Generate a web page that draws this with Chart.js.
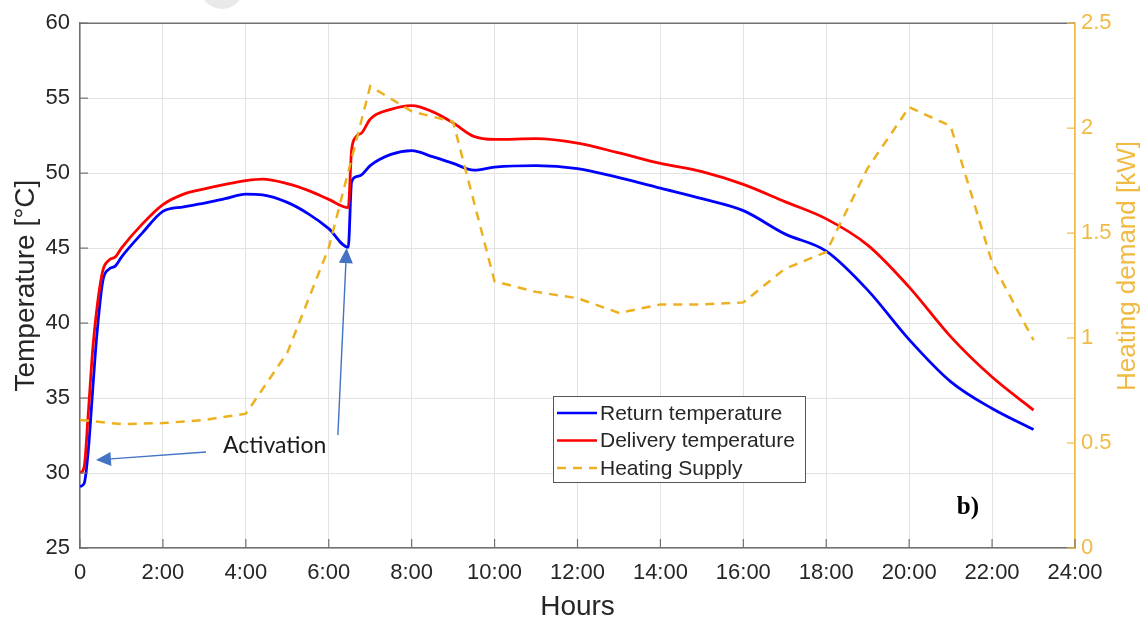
<!DOCTYPE html>
<html>
<head>
<meta charset="utf-8">
<title>Temperature and heating demand</title>
<script src="https://cdn.jsdelivr.net/npm/chart.js@4.4.0/dist/chart.umd.min.js"></script>
<style>
  html, body { margin: 0; padding: 0; background: #fff; }
  #wrap { width: 1147px; height: 622px; }
</style>
</head>
<body>
<div id="wrap"><canvas id="heatChart"></canvas></div>
<script>
// time axis (hours) shared by both temperature curves
const tempHours = [0, 0.1, 0.2, 0.3, 0.4, 0.55, 0.7, 0.85, 1.0, 1.5, 2.0, 2.5, 3.0, 3.5, 4.0, 4.4, 5.0, 5.5, 6.0, 6.47,
  6.55, 6.65, 6.8, 7.0, 7.5, 8.0, 8.5, 9.0, 9.5, 10.0, 11.0, 12.0, 13.0, 14.0, 15.0, 16.0, 17.0, 18.0, 19.0, 20.0, 21.0, 22.0, 23.0];
const returnTemp = [29.1, 29.3, 31.5, 35.3, 39.0, 42.8, 43.6, 43.8, 44.4, 46.0, 47.45, 47.75, 48.0, 48.3, 48.6, 48.55, 48.05, 47.3, 46.3, 45.05,
  49.4, 49.75, 49.9, 50.5, 51.25, 51.5, 51.1, 50.65, 50.2, 50.4, 50.5, 50.3, 49.7, 49.0, 48.3, 47.5, 45.95, 44.8, 42.2, 38.9, 36.1, 34.3, 32.9];
const deliveryTemp = [30.0, 30.4, 34.0, 38.0, 40.8, 43.5, 44.2, 44.4, 45.0, 46.6, 47.9, 48.6, 48.95, 49.25, 49.5, 49.6, 49.3, 48.85, 48.25, 47.7,
  51.5, 52.4, 52.7, 53.6, 54.25, 54.5, 54.1, 53.35, 52.45, 52.25, 52.3, 52.0, 51.35, 50.65, 50.1, 49.25, 48.1, 46.95, 45.2, 42.4, 39.1, 36.4, 34.2];

// hourly heating supply (kW)
const supplyHours = [0, 1, 2, 3, 4, 5, 6, 7, 8, 9, 10, 11, 12, 13, 14, 15, 16, 17, 18, 19, 20, 21, 22, 23];
const heatingSupply = [0.61, 0.59, 0.595, 0.61, 0.64, 0.93, 1.43, 2.2, 2.08, 2.03, 1.27, 1.22, 1.19, 1.12, 1.16, 1.16, 1.17, 1.33, 1.41, 1.81, 2.1, 2.01, 1.36, 0.99];

const hourTicks = [0, 2, 4, 6, 8, 10, 12, 14, 16, 18, 20, 22, 24];
const hourLabels = ['0', '2:00', '4:00', '6:00', '8:00', '10:00', '12:00', '14:00', '16:00', '18:00', '20:00', '22:00', '24:00'];

const FONT = '"Liberation Sans", Arial, Helvetica, sans-serif';
const TEXT = '#262626';
const AXIS = '#707070';
const GRID = '#e3e3e3';
const ORANGE = '#EDB120';
const ORANGE_AXIS = '#F0BB45';

function toPoints(xs, ys) {
  return xs.map((x, i) => ({ x: x, y: ys[i] }));
}

function line(ctx, x1, y1, x2, y2) {
  ctx.beginPath();
  ctx.moveTo(x1, y1);
  ctx.lineTo(x2, y2);
  ctx.stroke();
}

function arrow(ctx, x1, y1, x2, y2) {
  const ang = Math.atan2(y2 - y1, x2 - x1);
  const len = 15, half = 7;
  const bx = x2 - len * Math.cos(ang), by = y2 - len * Math.sin(ang);
  ctx.strokeStyle = '#4472C4';
  ctx.fillStyle = '#4472C4';
  ctx.lineWidth = 1.4;
  line(ctx, x1, y1, bx, by);
  ctx.beginPath();
  ctx.moveTo(x2, y2);
  ctx.lineTo(bx + half * Math.sin(ang), by - half * Math.cos(ang));
  ctx.lineTo(bx - half * Math.sin(ang), by + half * Math.cos(ang));
  ctx.closePath();
  ctx.fill();
}

const overlay = {
  id: 'overlay',
  afterDraw(chart) {
    const { ctx, chartArea: a, scales } = chart;
    const x = scales.x, yL = scales.yTemp, yR = scales.yHeat;
    ctx.save();

    // grey blob at the top of the picture
    ctx.fillStyle = '#e9e9e9';
    ctx.beginPath();
    ctx.arc(222, -13, 22, 0, Math.PI * 2);
    ctx.fill();

    // top frame line
    ctx.strokeStyle = AXIS;
    ctx.lineWidth = 1.5;
    line(ctx, a.left, a.top, a.right, a.top);

    // inward tick marks
    ctx.lineWidth = 1.2;
    hourTicks.forEach(v => {
      const px = x.getPixelForValue(v);
      line(ctx, px, a.bottom, px, a.bottom - 9);
    });
    yL.ticks.forEach(t => {
      const py = yL.getPixelForValue(t.value);
      line(ctx, a.left, py, a.left + 8, py);
    });
    ctx.strokeStyle = ORANGE_AXIS;
    yR.ticks.forEach(t => {
      const py = yR.getPixelForValue(t.value);
      line(ctx, a.right, py, a.right - 8, py);
    });

    // right axis title, reading bottom to top
    ctx.save();
    ctx.translate(1128, 266);
    ctx.rotate(-Math.PI / 2);
    ctx.fillStyle = ORANGE_AXIS;
    ctx.font = '26px ' + FONT;
    ctx.textAlign = 'center';
    ctx.textBaseline = 'middle';
    ctx.fillText('Heating demand [kW]', 0, 0);
    ctx.restore();

    // annotations
    arrow(ctx, x.getPixelForValue(3.04), yL.getPixelForValue(31.4), x.getPixelForValue(0.385), yL.getPixelForValue(30.87));
    arrow(ctx, x.getPixelForValue(6.22), yL.getPixelForValue(32.53), x.getPixelForValue(6.43), yL.getPixelForValue(45.0));
    ctx.fillStyle = '#1a1a1a';
    ctx.font = '23px Lato, "Open Sans", sans-serif';
    ctx.textAlign = 'left';
    ctx.textBaseline = 'middle';
    ctx.fillText('Activation', x.getPixelForValue(3.45), yL.getPixelForValue(31.8));

    ctx.fillStyle = '#000';
    ctx.font = 'bold 25px "Liberation Serif", "Times New Roman", serif';
    ctx.fillText('b)', x.getPixelForValue(21.15), yL.getPixelForValue(27.73));

    // legend box
    const lx = 553, ly = 396, lw = 252, lh = 86;
    ctx.fillStyle = '#fff';
    ctx.fillRect(lx, ly, lw, lh);
    ctx.strokeStyle = '#555';
    ctx.lineWidth = 1;
    ctx.strokeRect(lx + 0.5, ly + 0.5, lw, lh);
    ctx.font = '21px ' + FONT;
    ctx.textBaseline = 'middle';
    chart.data.datasets.forEach((ds, i) => {
      const cy = ly + 17 + i * 27.5;
      ctx.strokeStyle = ds.borderColor;
      ctx.lineWidth = 2.5;
      ctx.setLineDash(ds.borderDash || []);
      line(ctx, lx + 4, cy, lx + 44, cy);
      ctx.setLineDash([]);
      ctx.fillStyle = TEXT;
      ctx.fillText(ds.label, lx + 47, cy + 1);
    });

    ctx.restore();
  }
};

new Chart(
  document.getElementById('heatChart'),
  {
    type: 'line',
    data: {
      datasets: [
        {
          label: 'Return temperature',
          data: toPoints(tempHours, returnTemp),
          yAxisID: 'yTemp',
          borderColor: '#0000ff',
          borderWidth: 2.8,
          pointRadius: 0,
          cubicInterpolationMode: 'monotone',
          order: 2
        },
        {
          label: 'Delivery temperature',
          data: toPoints(tempHours, deliveryTemp),
          yAxisID: 'yTemp',
          borderColor: '#ff0000',
          borderWidth: 2.8,
          pointRadius: 0,
          cubicInterpolationMode: 'monotone',
          order: 1
        },
        {
          label: 'Heating Supply',
          data: toPoints(supplyHours, heatingSupply),
          yAxisID: 'yHeat',
          borderColor: ORANGE,
          borderWidth: 2.5,
          borderDash: [9, 7],
          pointRadius: 0,
          tension: 0,
          order: 0
        }
      ]
    },
    options: {
      responsive: true,
      maintainAspectRatio: false,
      animation: false,
      layout: { padding: { top: 23, left: 0, right: 0, bottom: 0 } },
      plugins: {
        legend: { display: false },
        tooltip: { enabled: false }
      },
      scales: {
        x: {
          type: 'linear',
          min: 0,
          max: 24,
          afterBuildTicks: s => { s.ticks = hourTicks.map(v => ({ value: v })); },
          afterFit: s => { s.height = 74; },
          ticks: {
            callback: v => hourLabels[hourTicks.indexOf(v)],
            font: { family: FONT, size: 22 },
            color: TEXT,
            padding: 12,
            maxRotation: 0,
            autoSkip: false
          },
          grid: { color: GRID, drawTicks: false },
          border: { color: AXIS, width: 1.5 },
          title: {
            display: true,
            text: 'Hours',
            font: { family: FONT, size: 28, lineHeight: 1 },
            color: TEXT,
            padding: { top: 0, bottom: 1 }
          }
        },
        yTemp: {
          position: 'left',
          min: 25,
          max: 60,
          afterFit: s => { s.width = 80; },
          ticks: {
            stepSize: 5,
            font: { family: FONT, size: 22 },
            color: TEXT,
            padding: 10
          },
          grid: { color: GRID, drawTicks: false },
          border: { color: AXIS, width: 1.5 },
          title: {
            display: true,
            text: 'Temperature [°C]',
            font: { family: FONT, size: 28, lineHeight: 1 },
            color: TEXT,
            padding: { top: 12, bottom: 0 }
          }
        },
        yHeat: {
          position: 'right',
          min: 0,
          max: 2.5,
          afterFit: s => { s.width = 72; },
          ticks: {
            stepSize: 0.5,
            callback: v => String(v),
            font: { family: FONT, size: 22 },
            color: ORANGE_AXIS,
            padding: 6
          },
          grid: { drawOnChartArea: false, drawTicks: false },
          border: { color: ORANGE_AXIS, width: 1.5 }
        }
      }
    },
    plugins: [overlay]
  }
);
</script>
</body>
</html>
